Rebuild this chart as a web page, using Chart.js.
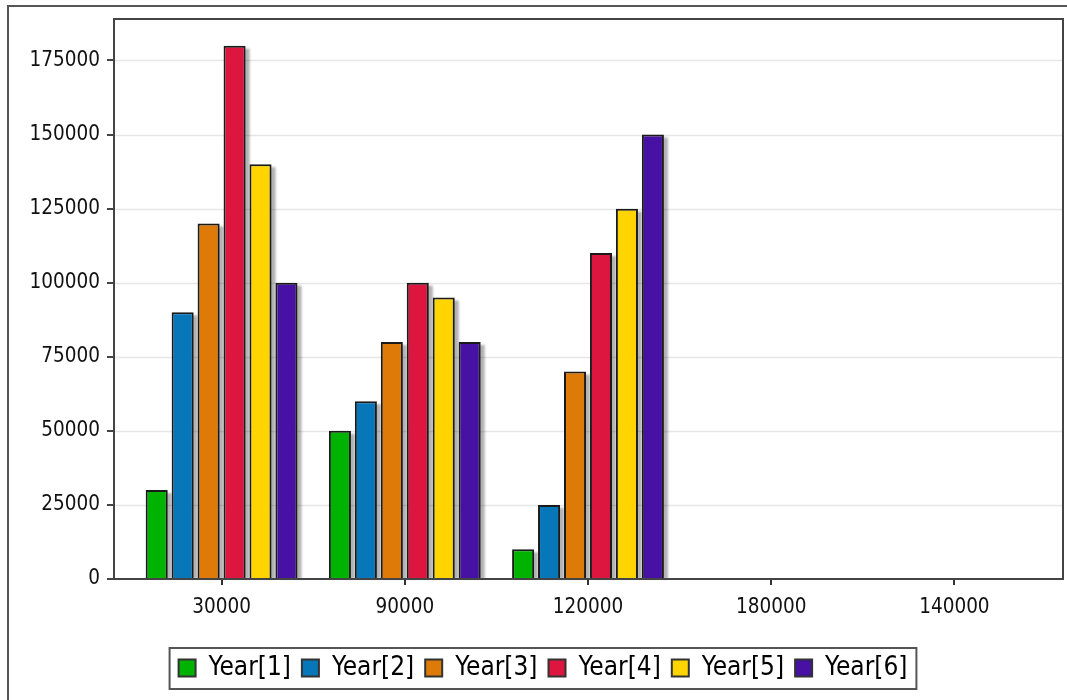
<!DOCTYPE html>
<html>
<head>
<meta charset="utf-8">
<script src="https://cdn.jsdelivr.net/npm/chart.js@4"></script>
<style>
  html, body { margin: 0; padding: 0; background: #fff; }
  #wrap { width: 1067px; height: 700px; }
</style>
</head>
<body>
<div id="wrap"><canvas id="yearChart" width="1067" height="700"></canvas></div>
<script>
// categories and series
const categories = ["30000", "90000", "120000", "180000", "140000"];
const seriesNames = ["Year[1]", "Year[2]", "Year[3]", "Year[4]", "Year[5]", "Year[6]"];
const year1 = [30000, 50000, 10000, null, null];
const year2 = [90000, 60000, 25000, null, null];
const year3 = [120000, 80000, 70000, null, null];
const year4 = [180000, 100000, 110000, null, null];
const year5 = [140000, 95000, 125000, null, null];
const year6 = [100000, 80000, 150000, null, null];
const yTicks = [0, 25000, 50000, 75000, 100000, 125000, 150000, 175000];
const yMax = 189000;

const seriesValues = [year1, year2, year3, year4, year5, year6];
const seriesColors = ["#00B300", "#0877BA", "#DE7A08", "#DC163E", "#FFD400", "#4711A3"];

const FONT = "'DejaVu Sans Condensed', 'Liberation Sans', sans-serif";
const INSET = 16;       // frame sits a little outside the category band
const LEGEND_SHIFT = 20; // legend is centred a bit right of the canvas centre

const framePlugin = {
    id: "frame",
    afterLayout(chart) {
        const lg = chart.legend;
        if (!lg) return;
        lg.left += LEGEND_SHIFT;
        lg.right += LEGEND_SHIFT;
        (lg.legendHitBoxes || []).forEach(hb => { hb.left += LEGEND_SHIFT; });
    },
    beforeDatasetsDraw(chart) {
        const ctx = chart.ctx, a = chart.chartArea, y = chart.scales.y;
        const l = a.left - INSET, r = a.right + INSET + 1;
        ctx.save();
        ctx.strokeStyle = "#e6e6e6";
        ctx.lineWidth = 1.5;
        yTicks.forEach(v => {
            if (v === 0) return;
            const py = Math.round(y.getPixelForValue(v)) + 0.5;
            ctx.beginPath(); ctx.moveTo(l, py); ctx.lineTo(r, py); ctx.stroke();
        });
        // bar shadows, taken from the bar elements
        ctx.fillStyle = "rgba(0,0,0,0.3)";
        ctx.filter = "blur(1.2px)";
        chart.data.datasets.forEach((ds, i) => {
            chart.getDatasetMeta(i).data.forEach((bar, j) => {
                if (ds.data[j] == null) return;
                const w = bar.width;
                ctx.fillRect(bar.x - w / 2 + 4, bar.y + 3, w, bar.base - bar.y - 3);
            });
        });
        ctx.restore();
    },
    afterDatasetsDraw(chart) {
        const ctx = chart.ctx, a = chart.chartArea, y = chart.scales.y;
        const l = a.left - INSET, r = a.right + INSET + 1;
        ctx.save();
        ctx.strokeStyle = "#444";
        ctx.lineWidth = 2;
        ctx.strokeRect(l, a.top, r - l, a.bottom - a.top);
        yTicks.forEach(v => {
            const py = Math.round(y.getPixelForValue(v));
            ctx.beginPath(); ctx.moveTo(l - 7, py); ctx.lineTo(l, py); ctx.stroke();
        });
        // outer border
        ctx.strokeStyle = "#555";
        ctx.beginPath();
        ctx.moveTo(8, 700); ctx.lineTo(8, 6); ctx.lineTo(1067, 6);
        ctx.stroke();
        ctx.restore();
    },
    afterDraw(chart) {
        // legend box
        const ctx = chart.ctx;
        const hb = chart.legend && chart.legend.legendHitBoxes;
        if (!hb || !hb.length) return;
        const last = hb[hb.length - 1];
        const x0 = hb[0].left - 9, x1 = last.left + last.width + 9;
        const y0 = hb[0].top - 7, y1 = hb[0].top + hb[0].height + 8;
        ctx.save();
        ctx.strokeStyle = "#555";
        ctx.lineWidth = 2;
        ctx.strokeRect(x0, y0, x1 - x0, y1 - y0);
        ctx.restore();
    }
};

new Chart(document.getElementById("yearChart"), {
    type: "bar",
    data: {
        labels: categories,
        datasets: seriesNames.map((name, i) => ({
            label: name,
            data: seriesValues[i],
            backgroundColor: seriesColors[i],
            borderColor: "#1a1a1a",
            borderWidth: 2,
            categoryPercentage: 0.85,
            barPercentage: 0.85
        }))
    },
    options: {
        responsive: false,
        animation: false,
        layout: { padding: { left: 0, right: 21, top: 19, bottom: 9 } },
        plugins: {
            tooltip: { enabled: false },
            legend: {
                position: "bottom",
                labels: {
                    color: "#111",
                    font: { family: FONT, size: 26 },
                    boxWidth: 17,
                    boxHeight: 17,
                    padding: 11,
                    generateLabels(chart) {
                        return chart.data.datasets.map((ds, i) => ({
                            text: ds.label,
                            fillStyle: ds.backgroundColor,
                            strokeStyle: "#333",
                            lineWidth: 2,
                            datasetIndex: i
                        }));
                    }
                }
            }
        },
        scales: {
            x: {
                grid: { display: true, drawOnChartArea: false, drawTicks: true, tickLength: 6, offset: false, color: "#333", lineWidth: 2 },
                border: { display: false },
                ticks: { color: "#111", font: { family: FONT, size: 20.5 }, padding: 10, maxRotation: 0 },
                afterFit(scale) { scale.height = 65; }
            },
            y: {
                min: 0,
                max: yMax,
                grid: { display: false },
                border: { display: false },
                ticks: {
                    color: "#111",
                    font: { family: FONT, size: 20.5 },
                    padding: 22,
                    callback: v => String(v)
                },
                afterBuildTicks(scale) { scale.ticks = yTicks.map(v => ({ value: v })); },
                afterFit(scale) {
                    scale.width = 130;
                    scale.paddingTop = 0;
                    scale.paddingBottom = 0;
                }
            }
        }
    },
    plugins: [framePlugin]
});
</script>
</body>
</html>
